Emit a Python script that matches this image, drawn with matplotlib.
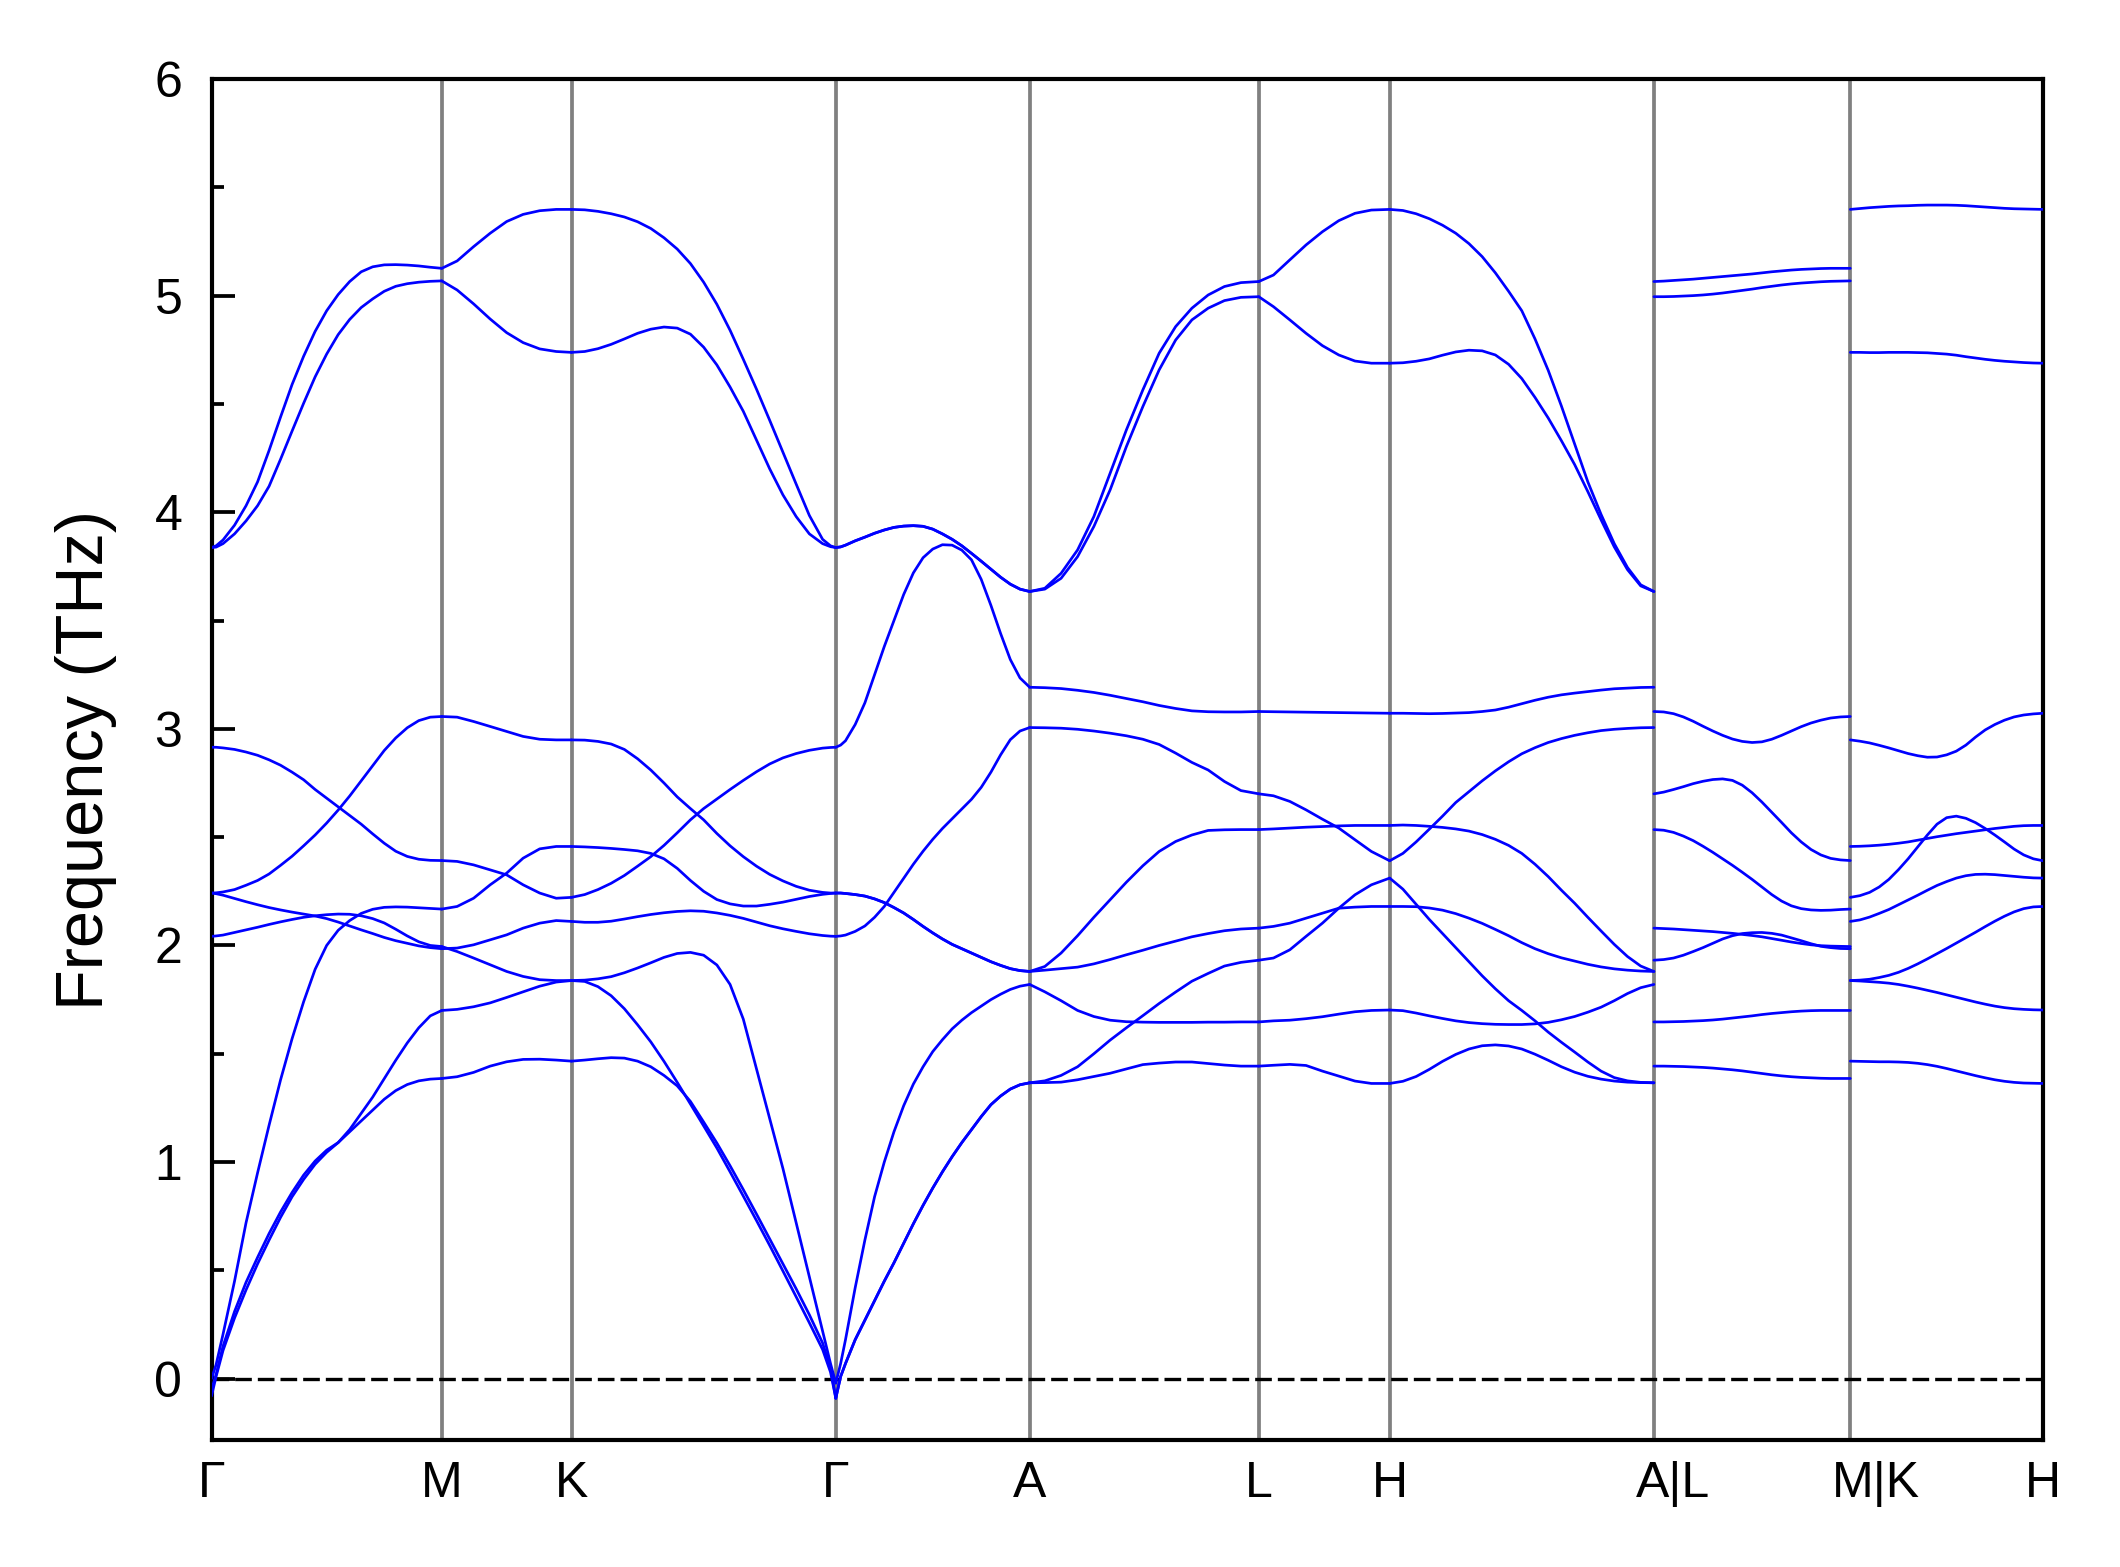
import numpy as np
import matplotlib
matplotlib.use('Agg')
import matplotlib.pyplot as plt
from matplotlib.ticker import MultipleLocator
from matplotlib.transforms import ScaledTranslation

plt.rcParams['font.family'] = ['Liberation Sans', 'DejaVu Sans']

# high-symmetry labels and path segment lengths
labels = ['Γ', 'M', 'K', 'Γ', 'A', 'L', 'H', 'A|L', 'M|K', 'H']
seg_len = [0.2303, 0.1297, 0.2643, 0.1939, 0.2291, 0.1309, 0.2642, 0.1964, 0.1927]

# Γ -> M
q_gm = [0, 0.02, 0.05, 0.10, 0.15, 0.20, 0.25, 0.30, 0.35, 0.40, 0.45, 0.50,
        0.55, 0.60, 0.65, 0.70, 0.75, 0.80, 0.85, 0.90, 0.95, 1.0]
f_gm = [
    [3.837, 3.845, 3.872, 3.94, 4.03, 4.14, 4.285, 4.44, 4.59, 4.72, 4.835, 4.93, 5.005, 5.065, 5.11, 5.133, 5.142, 5.143, 5.141, 5.137, 5.131, 5.126],
    [3.837, 3.839, 3.855, 3.9, 3.96, 4.03, 4.12, 4.245, 4.375, 4.503, 4.625, 4.73, 4.82, 4.89, 4.945, 4.985, 5.02, 5.043, 5.055, 5.062, 5.066, 5.068],
    [2.915, 2.915, 2.912, 2.905, 2.893, 2.878, 2.857, 2.832, 2.80, 2.765, 2.72, 2.68, 2.64, 2.60, 2.56, 2.515, 2.472, 2.435, 2.411, 2.398, 2.393, 2.392],
    [2.242, 2.243, 2.247, 2.258, 2.278, 2.30, 2.33, 2.37, 2.412, 2.46, 2.51, 2.565, 2.625, 2.69, 2.76, 2.83, 2.90, 2.958, 3.005, 3.038, 3.054, 3.057],
    [2.242, 2.239, 2.232, 2.217, 2.202, 2.188, 2.175, 2.164, 2.154, 2.145, 2.136, 2.124, 2.108, 2.09, 2.072, 2.055, 2.037, 2.022, 2.01, 1.998, 1.99, 1.985],
    [2.042, 2.044, 2.048, 2.06, 2.072, 2.084, 2.097, 2.109, 2.12, 2.13, 2.137, 2.142, 2.145, 2.144, 2.137, 2.124, 2.104, 2.075, 2.044, 2.017, 2.0, 1.995],
    [0.0, 0.065, 0.205, 0.45, 0.72, 0.95, 1.17, 1.38, 1.57, 1.74, 1.89, 2.0, 2.07, 2.115, 2.148, 2.167, 2.176, 2.178, 2.177, 2.174, 2.171, 2.168],
    [-0.08, 0.01, 0.13, 0.28, 0.41, 0.53, 0.64, 0.745, 0.84, 0.92, 0.99, 1.045, 1.09, 1.15, 1.225, 1.30, 1.385, 1.47, 1.55, 1.62, 1.675, 1.70],
    [-0.05, 0.02, 0.15, 0.31, 0.445, 0.56, 0.67, 0.77, 0.86, 0.94, 1.005, 1.055, 1.09, 1.14, 1.19, 1.24, 1.29, 1.33, 1.358, 1.375, 1.383, 1.386],
]

# M -> K
q_mk = [0, 0.118, 0.245, 0.373, 0.5, 0.627, 0.755, 0.882, 1]
f_mk = [
    [5.126, 5.16, 5.226, 5.288, 5.342, 5.375, 5.392, 5.398, 5.398],
    [5.068, 5.026, 4.962, 4.892, 4.829, 4.783, 4.754, 4.742, 4.738],
    [3.057, 3.054, 3.034, 3.011, 2.988, 2.965, 2.952, 2.949, 2.949],
    [2.392, 2.388, 2.372, 2.349, 2.326, 2.28, 2.242, 2.218, 2.222],
    [2.168, 2.18, 2.218, 2.28, 2.334, 2.403, 2.446, 2.457, 2.457],
    [1.985, 1.988, 2.003, 2.026, 2.049, 2.08, 2.103, 2.115, 2.111],
    [1.995, 1.972, 1.942, 1.911, 1.88, 1.857, 1.842, 1.838, 1.838],
    [1.70, 1.705, 1.717, 1.735, 1.76, 1.786, 1.812, 1.831, 1.838],
    [1.386, 1.394, 1.414, 1.443, 1.463, 1.474, 1.475, 1.471, 1.466],
]

# K -> Γ
q_kg = [0, 0.05, 0.10, 0.15, 0.20, 0.25, 0.30, 0.35, 0.40, 0.45, 0.50, 0.55,
        0.60, 0.65, 0.70, 0.75, 0.80, 0.85, 0.90, 0.95, 0.98, 1.0]
f_kg = [
    [5.398, 5.396, 5.389, 5.378, 5.363, 5.341, 5.31, 5.267, 5.215, 5.148, 5.062, 4.96, 4.84, 4.706, 4.568, 4.424, 4.277, 4.13, 3.985, 3.875, 3.845, 3.837],
    [4.738, 4.742, 4.755, 4.775, 4.80, 4.826, 4.845, 4.855, 4.85, 4.822, 4.762, 4.68, 4.578, 4.466, 4.333, 4.2, 4.08, 3.98, 3.9, 3.855, 3.841, 3.837],
    [2.949, 2.948, 2.942, 2.93, 2.905, 2.862, 2.81, 2.75, 2.686, 2.632, 2.58, 2.517, 2.46, 2.41, 2.366, 2.328, 2.298, 2.273, 2.255, 2.245, 2.242, 2.242],
    [2.222, 2.235, 2.258, 2.287, 2.323, 2.366, 2.41, 2.462, 2.52, 2.58, 2.632, 2.676, 2.72, 2.762, 2.802, 2.838, 2.866, 2.886, 2.901, 2.911, 2.914, 2.915],
    [2.457, 2.455, 2.452, 2.448, 2.443, 2.437, 2.425, 2.40, 2.356, 2.30, 2.25, 2.212, 2.192, 2.182, 2.182, 2.19, 2.20, 2.213, 2.226, 2.236, 2.24, 2.242],
    [2.111, 2.107, 2.107, 2.112, 2.122, 2.133, 2.143, 2.151, 2.157, 2.16, 2.158, 2.15, 2.139, 2.125, 2.108, 2.091, 2.077, 2.065, 2.054, 2.046, 2.043, 2.042],
    [1.838, 1.84, 1.846, 1.856, 1.874, 1.896, 1.92, 1.945, 1.963, 1.968, 1.955, 1.91, 1.82, 1.66, 1.43, 1.2, 0.97, 0.72, 0.47, 0.22, 0.07, -0.02],
    [1.838, 1.834, 1.81, 1.768, 1.708, 1.634, 1.555, 1.465, 1.368, 1.268, 1.167, 1.065, 0.955, 0.843, 0.73, 0.615, 0.497, 0.378, 0.258, 0.135, 0.03, -0.09],
    [1.466, 1.471, 1.477, 1.482, 1.48, 1.466, 1.44, 1.40, 1.352, 1.28, 1.185, 1.088, 0.983, 0.873, 0.76, 0.645, 0.53, 0.415, 0.295, 0.165, 0.05, -0.09],
]

# Γ -> A
q_ga = [0, 0.025, 0.05, 0.10, 0.15, 0.20, 0.25, 0.30, 0.35, 0.40, 0.45, 0.50,
        0.55, 0.60, 0.65, 0.70, 0.75, 0.80, 0.85, 0.90, 0.95, 1.0]
f_ga = [
    [3.837, 3.84, 3.848, 3.868, 3.885, 3.903, 3.918, 3.93, 3.936, 3.938, 3.935, 3.922, 3.90, 3.875, 3.845, 3.81, 3.774, 3.737, 3.70, 3.668, 3.645, 3.634],
    [3.837, 3.84, 3.848, 3.868, 3.885, 3.903, 3.918, 3.93, 3.936, 3.938, 3.935, 3.922, 3.90, 3.875, 3.845, 3.81, 3.774, 3.737, 3.70, 3.668, 3.645, 3.634],
    [2.915, 2.925, 2.945, 3.02, 3.12, 3.25, 3.38, 3.50, 3.62, 3.72, 3.79, 3.83, 3.85, 3.848, 3.825, 3.78, 3.69, 3.57, 3.44, 3.32, 3.235, 3.192],
    [2.042, 2.044, 2.048, 2.065, 2.09, 2.13, 2.18, 2.245, 2.31, 2.375, 2.435, 2.49, 2.54, 2.585, 2.63, 2.675, 2.73, 2.80, 2.88, 2.95, 2.99, 3.006],
    [2.242, 2.242, 2.24, 2.235, 2.228, 2.215, 2.198, 2.175, 2.15, 2.12, 2.088, 2.058, 2.03, 2.005, 1.985, 1.965, 1.945, 1.925, 1.908, 1.893, 1.884, 1.88],
    [2.242, 2.242, 2.24, 2.235, 2.228, 2.215, 2.198, 2.175, 2.15, 2.12, 2.088, 2.058, 2.03, 2.005, 1.985, 1.965, 1.945, 1.925, 1.908, 1.893, 1.884, 1.88],
    [-0.02, 0.07, 0.18, 0.42, 0.64, 0.84, 1.0, 1.14, 1.26, 1.36, 1.44, 1.51, 1.565, 1.615, 1.655, 1.69, 1.72, 1.75, 1.775, 1.797, 1.812, 1.82],
    [-0.09, 0.01, 0.07, 0.18, 0.27, 0.36, 0.45, 0.535, 0.625, 0.715, 0.80, 0.88, 0.955, 1.025, 1.09, 1.15, 1.21, 1.265, 1.305, 1.337, 1.357, 1.366],
    [-0.09, 0.01, 0.07, 0.18, 0.27, 0.36, 0.45, 0.535, 0.625, 0.715, 0.80, 0.88, 0.955, 1.025, 1.09, 1.15, 1.21, 1.265, 1.305, 1.337, 1.357, 1.366],
]

# A -> L
q_al = [0, 0.066, 0.137, 0.209, 0.28, 0.351, 0.422, 0.494, 0.565, 0.637, 0.708, 0.779, 0.85, 0.922, 1]
f_al = [
    [3.634, 3.649, 3.718, 3.826, 3.98, 4.18, 4.38, 4.565, 4.734, 4.857, 4.942, 5.003, 5.042, 5.06, 5.065],
    [3.634, 3.645, 3.695, 3.795, 3.934, 4.103, 4.303, 4.488, 4.657, 4.795, 4.888, 4.942, 4.977, 4.992, 4.995],
    [3.192, 3.19, 3.186, 3.178, 3.168, 3.155, 3.14, 3.125, 3.108, 3.094, 3.083, 3.079, 3.078, 3.078, 3.08],
    [3.006, 3.005, 3.003, 2.998, 2.99, 2.98, 2.968, 2.952, 2.928, 2.888, 2.845, 2.81, 2.757, 2.715, 2.70],
    [1.88, 1.903, 1.965, 2.045, 2.13, 2.211, 2.292, 2.368, 2.434, 2.48, 2.51, 2.531, 2.534, 2.535, 2.535],
    [1.88, 1.886, 1.893, 1.90, 1.915, 1.935, 1.957, 1.978, 2.0, 2.02, 2.04, 2.055, 2.068, 2.076, 2.08],
    [1.82, 1.786, 1.745, 1.70, 1.672, 1.655, 1.648, 1.646, 1.645, 1.645, 1.645, 1.646, 1.646, 1.647, 1.647],
    [1.366, 1.375, 1.40, 1.44, 1.50, 1.563, 1.62, 1.676, 1.732, 1.785, 1.835, 1.871, 1.905, 1.922, 1.932],
    [1.366, 1.367, 1.369, 1.38, 1.395, 1.41, 1.43, 1.45, 1.457, 1.462, 1.462, 1.455, 1.448, 1.443, 1.443],
]

# L -> H
q_lh = [0, 0.112, 0.237, 0.361, 0.486, 0.611, 0.735, 0.860, 1]
f_lh = [
    [5.065, 5.095, 5.165, 5.234, 5.295, 5.346, 5.38, 5.395, 5.398],
    [4.995, 4.949, 4.888, 4.826, 4.769, 4.726, 4.698, 4.688, 4.688],
    [3.08, 3.079, 3.078, 3.077, 3.076, 3.075, 3.074, 3.073, 3.072],
    [2.70, 2.691, 2.665, 2.626, 2.583, 2.542, 2.488, 2.434, 2.391],
    [2.535, 2.538, 2.542, 2.546, 2.549, 2.552, 2.554, 2.554, 2.554],
    [2.08, 2.088, 2.103, 2.126, 2.149, 2.172, 2.177, 2.18, 2.18],
    [1.932, 1.942, 1.98, 2.042, 2.103, 2.172, 2.234, 2.28, 2.311],
    [1.647, 1.652, 1.655, 1.662, 1.671, 1.683, 1.694, 1.70, 1.702],
    [1.443, 1.447, 1.451, 1.446, 1.42, 1.397, 1.374, 1.363, 1.363],
]

# H -> A
q_ha = [0, 0.05, 0.10, 0.15, 0.20, 0.25, 0.30, 0.35, 0.40, 0.45, 0.50,
        0.55, 0.60, 0.65, 0.70, 0.75, 0.80, 0.85, 0.90, 0.95, 1.0]
f_ha = [
    [5.398, 5.393, 5.378, 5.355, 5.325, 5.288, 5.24, 5.18, 5.105, 5.02, 4.93, 4.80, 4.655, 4.49, 4.315, 4.14, 3.99, 3.855, 3.745, 3.665, 3.634],
    [4.688, 4.69, 4.697, 4.708, 4.725, 4.74, 4.748, 4.745, 4.726, 4.683, 4.617, 4.53, 4.435, 4.33, 4.22, 4.095, 3.965, 3.84, 3.735, 3.66, 3.634],
    [3.072, 3.072, 3.071, 3.07, 3.071, 3.073, 3.075, 3.08, 3.087, 3.10, 3.116, 3.132, 3.146, 3.157, 3.165, 3.172, 3.179, 3.185, 3.188, 3.191, 3.192],
    [2.391, 2.425, 2.478, 2.537, 2.597, 2.66, 2.71, 2.76, 2.806, 2.848, 2.885, 2.913, 2.937, 2.955, 2.97, 2.982, 2.992, 2.998, 3.002, 3.005, 3.006],
    [2.554, 2.556, 2.554, 2.55, 2.545, 2.538, 2.528, 2.512, 2.49, 2.462, 2.425, 2.375, 2.318, 2.255, 2.195, 2.13, 2.067, 2.005, 1.949, 1.905, 1.88],
    [2.18, 2.18, 2.179, 2.173, 2.163, 2.147, 2.126, 2.102, 2.074, 2.045, 2.013, 1.985, 1.962, 1.943, 1.928, 1.913, 1.901, 1.892, 1.886, 1.882, 1.88],
    [2.311, 2.26, 2.19, 2.12, 2.055, 1.99, 1.925, 1.86, 1.80, 1.745, 1.70, 1.652, 1.60, 1.553, 1.508, 1.462, 1.42, 1.39, 1.375, 1.368, 1.366],
    [1.702, 1.699, 1.688, 1.675, 1.663, 1.652, 1.644, 1.639, 1.636, 1.635, 1.635, 1.638, 1.645, 1.657, 1.672, 1.692, 1.715, 1.745, 1.778, 1.805, 1.82],
    [1.363, 1.373, 1.395, 1.428, 1.465, 1.497, 1.522, 1.537, 1.541, 1.536, 1.522, 1.498, 1.47, 1.44, 1.415, 1.396, 1.383, 1.374, 1.369, 1.367, 1.366],
]

# L -> M
q_lm = [0, 0.05, 0.10, 0.15, 0.20, 0.25, 0.30, 0.35, 0.40, 0.45, 0.50,
        0.55, 0.60, 0.65, 0.70, 0.75, 0.80, 0.85, 0.90, 0.95, 1.0]
f_lm = [
    [5.065, 5.067, 5.07, 5.073, 5.076, 5.08, 5.084, 5.088, 5.092, 5.096, 5.10, 5.105, 5.11, 5.114, 5.118, 5.121, 5.123, 5.125, 5.126, 5.126, 5.126],
    [4.995, 4.995, 4.996, 4.998, 5.0, 5.003, 5.007, 5.012, 5.018, 5.024, 5.03, 5.037, 5.043, 5.049, 5.054, 5.058, 5.061, 5.064, 5.066, 5.067, 5.068],
    [3.08, 3.078, 3.07, 3.055, 3.035, 3.012, 2.99, 2.97, 2.953, 2.942, 2.937, 2.94, 2.952, 2.97, 2.99, 3.01, 3.027, 3.04, 3.05, 3.055, 3.057],
    [2.70, 2.708, 2.72, 2.733, 2.747, 2.758, 2.766, 2.769, 2.762, 2.74, 2.705, 2.662, 2.615, 2.568, 2.52, 2.478, 2.443, 2.418, 2.402, 2.395, 2.392],
    [2.535, 2.532, 2.522, 2.505, 2.484, 2.458, 2.43, 2.40, 2.37, 2.338, 2.305, 2.27, 2.235, 2.205, 2.183, 2.17, 2.164, 2.162, 2.163, 2.166, 2.168],
    [2.08, 2.078, 2.076, 2.073, 2.07, 2.067, 2.064, 2.06, 2.056, 2.051, 2.046, 2.04, 2.032, 2.024, 2.016, 2.009, 2.003, 1.999, 1.997, 1.996, 1.995],
    [1.932, 1.935, 1.942, 1.955, 1.972, 1.99, 2.01, 2.03, 2.045, 2.055, 2.059, 2.06, 2.056, 2.048, 2.035, 2.022, 2.008, 1.996, 1.99, 1.986, 1.985],
    [1.647, 1.647, 1.648, 1.649, 1.651, 1.653, 1.656, 1.66, 1.665, 1.67, 1.675, 1.681, 1.686, 1.69, 1.694, 1.697, 1.699, 1.70, 1.70, 1.70, 1.70],
    [1.443, 1.443, 1.442, 1.441, 1.439, 1.437, 1.434, 1.43, 1.426, 1.421, 1.415, 1.409, 1.403, 1.398, 1.394, 1.391, 1.389, 1.387, 1.386, 1.386, 1.386],
]

# K -> H
q_kh = [0, 0.05, 0.10, 0.15, 0.20, 0.25, 0.30, 0.35, 0.40, 0.45, 0.50,
        0.55, 0.60, 0.65, 0.70, 0.75, 0.80, 0.85, 0.90, 0.95, 1.0]
f_kh = [
    [5.398, 5.402, 5.406, 5.409, 5.412, 5.414, 5.415, 5.417, 5.418, 5.418, 5.418, 5.417, 5.415, 5.412, 5.409, 5.406, 5.403, 5.401, 5.40, 5.399, 5.398],
    [4.738, 4.738, 4.737, 4.737, 4.738, 4.738, 4.738, 4.737, 4.736, 4.733, 4.73, 4.725, 4.718, 4.712, 4.706, 4.701, 4.697, 4.694, 4.691, 4.689, 4.688],
    [2.949, 2.943, 2.935, 2.924, 2.912, 2.899, 2.886, 2.876, 2.869, 2.87, 2.88, 2.897, 2.925, 2.962, 2.995, 3.02, 3.04, 3.055, 3.064, 3.069, 3.072],
    [2.457, 2.458, 2.46, 2.463, 2.467, 2.472, 2.478, 2.486, 2.494, 2.502, 2.509, 2.516, 2.522, 2.528, 2.534, 2.54, 2.545, 2.55, 2.553, 2.554, 2.554],
    [2.222, 2.23, 2.245, 2.27, 2.305, 2.35, 2.40, 2.455, 2.51, 2.56, 2.59, 2.597, 2.587, 2.567, 2.54, 2.51, 2.478, 2.445, 2.418, 2.40, 2.391],
    [2.111, 2.118, 2.131, 2.148, 2.166, 2.188, 2.21, 2.232, 2.255, 2.277, 2.295, 2.311, 2.322, 2.328, 2.329, 2.327, 2.323, 2.319, 2.315, 2.312, 2.311],
    [1.838, 1.84, 1.844, 1.852, 1.862, 1.876, 1.894, 1.915, 1.938, 1.962, 1.986, 2.011, 2.036, 2.061, 2.087, 2.112, 2.135, 2.155, 2.17, 2.178, 2.18],
    [1.838, 1.836, 1.833, 1.83, 1.826, 1.82, 1.812, 1.803, 1.793, 1.783, 1.772, 1.761, 1.75, 1.739, 1.729, 1.72, 1.713, 1.708, 1.705, 1.703, 1.702],
    [1.466, 1.465, 1.464, 1.463, 1.463, 1.462, 1.46, 1.456, 1.45, 1.442, 1.432, 1.421, 1.41, 1.399, 1.389, 1.38, 1.373, 1.368, 1.365, 1.364, 1.363],
]

segments = [(q_gm, f_gm), (q_mk, f_mk), (q_kg, f_kg), (q_ga, f_ga), (q_al, f_al),
            (q_lh, f_lh), (q_ha, f_ha), (q_lm, f_lm), (q_kh, f_kh)]

W, H = 2120, 1567
fig = plt.figure(figsize=(W / 300, H / 300), dpi=300)
ax = fig.add_axes([211.5 / W, 1 - 1440 / H, (2043 - 211.5) / W, (1440 - 79) / H])

xticks = np.concatenate([[0], np.cumsum(seg_len)])

for i, (q, bands) in enumerate(segments):
    x = xticks[i] + np.array(q) * seg_len[i]
    for f in bands:
        ax.plot(x, f, color='blue', lw=0.65, solid_capstyle='round',
                solid_joinstyle='round', zorder=3)

for xv in xticks[1:-1]:
    ax.axvline(xv, color='gray', lw=0.9, zorder=1)
ax.axhline(0, color='black', lw=0.8, linestyle=(0, (5, 1.8)), zorder=2)

ax.set_xlim(xticks[0], xticks[-1])
ax.set_ylim(-0.283, 6.0)

ax.set_xticks(xticks)
ax.set_xticklabels(labels)
ax.tick_params(axis='x', length=0, pad=5, labelsize=12)
ax.yaxis.set_major_locator(MultipleLocator(1))
ax.yaxis.set_minor_locator(MultipleLocator(0.5))
ax.tick_params(axis='y', which='major', direction='in', length=5.5, width=0.9,
               labelsize=12, pad=7)
ax.tick_params(axis='y', which='minor', direction='in', length=2.8, width=0.9)

# the two composite labels sit a bit right of their ticks
for lbl, dx in zip(ax.get_xticklabels()[7:9], [19, 26]):
    lbl.set_transform(lbl.get_transform() + ScaledTranslation(dx / 300, 0, fig.dpi_scale_trans))

for s in ax.spines.values():
    s.set_linewidth(1.0)

ax.set_ylabel('Frequency (THz)', fontsize=16, labelpad=9)

fig.savefig('out.png', dpi=300)
